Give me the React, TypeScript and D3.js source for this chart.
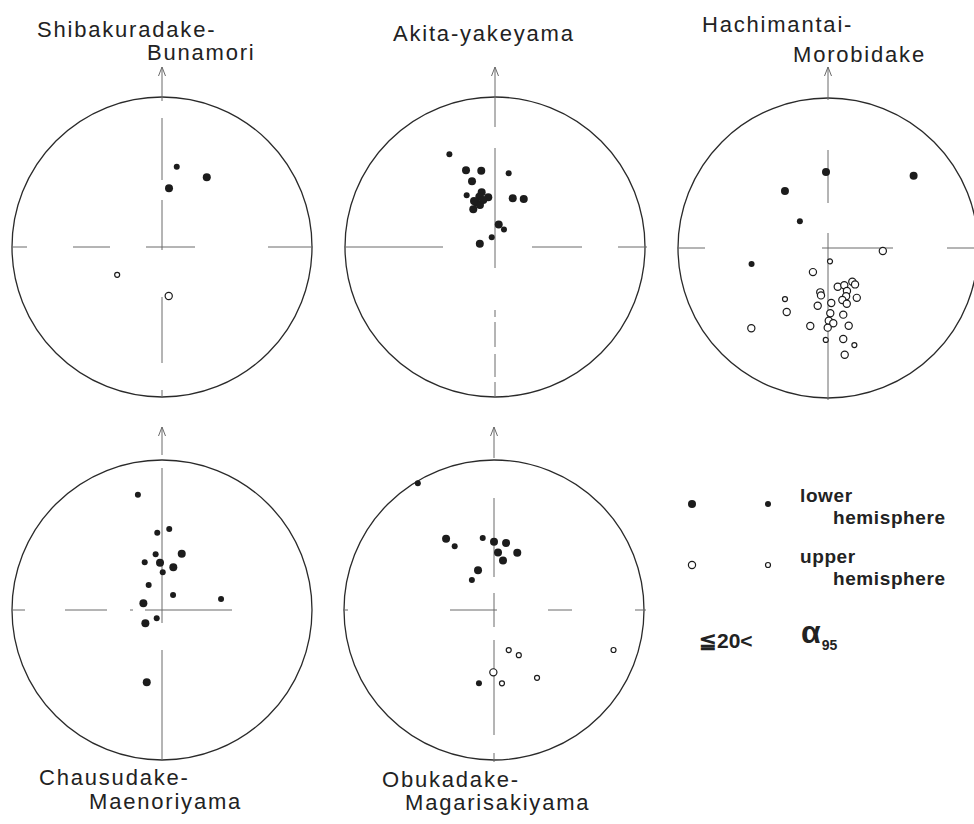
import React from 'react';
import * as d3 from 'd3';

// [declination, inclination, alpha95 class (1: α95 ≤ 20, 0: α95 > 20)]
type Site = [number, number, number];

const shibakuradakeBunamori: Site[] = [
  [10.4, 44.7, 0], [32.7, 44.0, 1], [6.8, 57.6, 1],
  [238.2, -61.2, 0], [172.2, -63.0, 1],
];

const akitaYakeyama: Site[] = [
  [333.8, 31.7, 0], [339.3, 44.5, 1], [349.8, 47.1, 1], [10.5, 48.6, 0],
  [340.7, 51.7, 1], [331.3, 57.7, 0], [346.3, 59.2, 1], [342.7, 61.2, 1],
  [352.3, 62.6, 1], [337.0, 63.5, 1], [340.3, 65.7, 1], [330.1, 66.3, 1],
  [335.5, 62.4, 1], [346.0, 63.6, 1], [20.0, 61.7, 1], [30.9, 59.4, 1],
  [9.4, 77.7, 1], [27.0, 79.3, 0], [341.2, 84.5, 0], [282.2, 81.6, 1],
];

const hachimantaiMorobidake: Site[] = [
  [358.5, 48.0, 1], [49.8, 26.2, 1], [323.0, 50.6, 1], [313.6, 68.9, 0], [258.2, 46.8, 0],
  [93.1, -60.0, 1], [171.4, -82.7, 0], [212.0, -74.6, 1], [165.9, -68.3, 1],
  [156.4, -67.9, 1], [144.2, -67.4, 1], [143.4, -65.3, 1], [156.2, -64.4, 1],
  [189.9, -65.5, 1], [188.4, -63.9, 1], [159.4, -61.9, 1], [164.6, -60.5, 1],
  [150.0, -58.5, 1], [161.4, -57.8, 1], [176.6, -59.9, 1], [190.1, -57.9, 1],
  [220.1, -53.3, 0], [212.8, -47.9, 1], [223.7, -26.9, 1], [178.0, -54.2, 1],
  [167.1, -52.4, 1], [179.4, -49.9, 1], [176.0, -48.3, 1], [192.8, -45.7, 1],
  [180.2, -45.9, 1], [165.1, -45.4, 1], [181.4, -38.6, 0], [170.5, -38.4, 1],
  [164.8, -33.4, 0], [171.1, -28.8, 1],
];

const chausudakeMaenoriyama: Site[] = [
  [348.2, 22.5, 0], [356.5, 47.2, 0], [5.1, 44.9, 0], [353.5, 59.3, 0],
  [19.3, 57.3, 1], [340.1, 62.3, 0], [357.6, 64.2, 1], [14.8, 65.9, 1],
  [1.1, 69.5, 0], [332.0, 74.6, 0], [36.3, 79.9, 0], [79.4, 57.1, 0],
  [289.7, 79.3, 1], [212.6, 84.7, 0], [231.5, 78.5, 1], [191.9, 49.2, 1],
];

const obukadakeMagarisakiyama: Site[] = [
  [329.0, 1.6, 0], [326.1, 42.2, 1], [328.3, 48.7, 0], [351.1, 49.8, 0],
  [0.0, 52.4, 1], [10.2, 52.5, 1], [4.0, 58.5, 1], [22.1, 56.1, 1],
  [10.3, 62.6, 1], [338.1, 66.7, 1], [323.5, 69.8, 0], [191.6, 48.7, 0],
  [159.8, -66.8, 0], [151.2, -61.9, 0], [108.5, -17.1, 0], [180.6, -55.8, 1],
  [173.8, -49.3, 0], [147.6, -45.5, 0],
];

const siteData: Site[][] = [
  shibakuradakeBunamori, akitaYakeyama, hachimantaiMorobidake,
  chausudakeMaenoriyama, obukadakeMagarisakiyama,
];

const siteNames: string[][] = [
  ['Shibakuradake-', 'Bunamori'],
  ['Akita-yakeyama'],
  ['Hachimantai-', 'Morobidake'],
  ['Chausudake-', 'Maenoriyama'],
  ['Obukadake-', 'Magarisakiyama'],
];

const legendRows = ['lower', 'upper'];
const legendSub = 'hemisphere';
const alphaLimit = '≦20<';

// ---------- layout / style (not data) ----------
const R = 150;
type Layout = {
  cx: number; cy: number; tip: number;
  v: [number, number][]; h: [number, number][];
  labels: { x: number; y: number }[];
};
const layout: Layout[] = [
  {
    cx: 162, cy: 247, tip: -180,
    v: [[-180, -146], [-129, -67], [-47, 3], [50, 116], [143, 150]],
    h: [[-150, -135], [-89, -52], [-16, 33], [106, 151]],
    labels: [{ x: 37, y: 37 }, { x: 147, y: 60 }],
  },
  {
    cx: 495, cy: 247, tip: -180,
    v: [[-180, -120], [-99, 21], [63, 70], [75, 100], [107, 130], [135, 151]],
    h: [[-151, -52], [37, 87], [123, 152]],
    labels: [{ x: 393, y: 41 }],
  },
  {
    cx: 828, cy: 248, tip: -181,
    v: [[-181, -148], [-98, -45], [-15, 152]],
    h: [[-151, -123], [-6, 65], [119, 152]],
    labels: [{ x: 702, y: 32 }, { x: 793, y: 62 }],
  },
  {
    cx: 162, cy: 610, tip: -183,
    v: [[-183, -155], [-142, 13], [40, 150]],
    h: [[-150, -137], [-97, -55], [-32, -29], [-17, 70]],
    labels: [{ x: 39, y: 785 }, { x: 89, y: 809 }],
  },
  {
    cx: 494, cy: 610, tip: -183,
    v: [[-183, -152], [-112, -33], [-17, 17], [30, 125], [143, 152]],
    h: [[-151, -146], [-44, 3], [54, 78], [141, 152]],
    labels: [{ x: 382, y: 787 }, { x: 405, y: 810 }],
  },
];

const ink = '#1c1c1c';
const axisColor = '#6a6a6a';
const titleFont = "'Liberation Sans', Arial, Helvetica, sans-serif";

// equal-area (Schmidt) projection radius scale
const rScale = d3.scaleLinear().domain([0, Math.SQRT2]).range([0, R]);
const rad = (d: number) => (d * Math.PI) / 180;
function project(dec: number, inc: number): [number, number] {
  const theta = rad(90 - Math.abs(inc));
  const r = rScale(2 * Math.sin(theta / 2));
  return [r * Math.sin(rad(dec)), -r * Math.cos(rad(dec))];
}

function Marker({ x, y, lower, big }: { x: number; y: number; lower: boolean; big: boolean }) {
  if (lower) return <circle cx={x} cy={y} r={big ? 4 : 3} fill={ink} />;
  return (
    <circle cx={x} cy={y} r={big ? 3.6 : 2.5} fill="white" stroke={ink} strokeWidth={1.2} />
  );
}

function Net({ data, names, L }: { data: Site[]; names: string[]; L: Layout }) {
  return (
    <g>
      <g transform={`translate(${L.cx},${L.cy})`}>
        <circle r={R} fill="none" stroke="#2a2a2a" strokeWidth={1.3} />
        {L.v.map(([a, b], i) => (
          <line key={'v' + i} x1={0} x2={0} y1={a} y2={b} stroke={axisColor} strokeWidth={1} />
        ))}
        {L.h.map(([a, b], i) => (
          <line key={'h' + i} y1={0} y2={0} x1={a} x2={b} stroke={axisColor} strokeWidth={1} />
        ))}
        <path
          d={`M${-3.5},${L.tip + 9} L0,${L.tip} L${3.5},${L.tip + 9}`}
          fill="none"
          stroke={axisColor}
          strokeWidth={1}
        />
        {data.map(([dec, inc, cls], i) => {
          const [x, y] = project(dec, inc);
          return <Marker key={i} x={x} y={y} lower={inc >= 0} big={cls === 1} />;
        })}
      </g>
      {names.map((n, i) => (
        <text
          key={i}
          x={L.labels[i].x}
          y={L.labels[i].y}
          fontFamily={titleFont}
          fontSize={22}
          letterSpacing={1.8}
          fill="#222"
        >
          {n}
        </text>
      ))}
    </g>
  );
}

function Legend() {
  const bold = { fontFamily: titleFont, fontWeight: 700, fill: '#222' } as const;
  const rowsY = [504, 565];
  return (
    <g>
      {legendRows.map((lbl, i) => (
        <g key={lbl}>
          <Marker x={692} y={rowsY[i]} lower={i === 0} big={true} />
          <Marker x={768} y={rowsY[i]} lower={i === 0} big={false} />
          <text x={800} y={rowsY[i] - 2} fontSize={19} letterSpacing={0.6} {...bold}>
            {lbl}
          </text>
          <text x={833} y={rowsY[i] + 20} fontSize={19} letterSpacing={0.6} {...bold}>
            {legendSub}
          </text>
        </g>
      ))}
      <text x={699} y={648} fontSize={21} {...bold}>
        {alphaLimit}
      </text>
      <text x={801} y={643} fontSize={32} {...bold}>
        α
        <tspan fontSize={14} dy={7} dx={1}>
          95
        </tspan>
      </text>
    </g>
  );
}

export default function App() {
  return (
    <svg
      width={974}
      height={824}
      style={{ position: 'absolute', left: 0, top: 0, display: 'block', background: 'white' }}
    >
      <rect width={974} height={824} fill="white" />
      {layout.map((L, i) => (
        <Net key={i} data={siteData[i]} names={siteNames[i]} L={L} />
      ))}
      <Legend />
    </svg>
  );
}
